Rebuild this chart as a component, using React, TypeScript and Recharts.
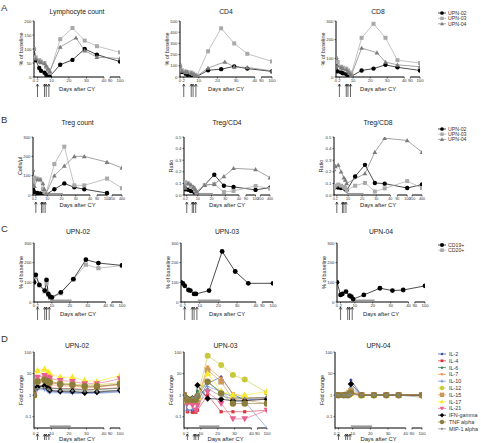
import React from 'react'
import { LineChart, Line, XAxis, YAxis, ReferenceLine, Label } from 'recharts'

const font = '"Liberation Sans", Arial, Helvetica, sans-serif'

// ---------- data ----------
const shortTicks = [0, 2, 10, 20, 30, 40, 90, 100]
const longTicks = [0, 2, 10, 20, 30, 40, 90, 100, 350, 400]
const cyDoses = [2, 6, 7, 8.5]
const shadedDays = [9, 21]

// A: % of baseline
const aDays = [0, 1, 3, 4, 6, 7, 8, 9, 15, 22, 24, 29, 36, 100]
const lymphUpn02 = [100, 60, 32, 22, 15, 8, 4, 2, 44, 61, null, 100, 80, 55]
const lymphUpn03 = [100, 70, 60, 55, 50, 35, 25, 15, 135, 175, null, 130, 110, 88]
const lymphUpn04 = [100, 65, 55, 52, 48, 40, 30, 20, 107, null, 140, 94, 71, 66]
const cd4Upn02 = [100, 45, 30, 20, 15, 10, 6, 4, 60, 70, null, 95, 75, 50]
const cd4Upn03 = [100, 60, 50, 45, 40, 30, 20, 10, 230, 435, null, 300, 207, 139]
const cd4Upn04 = [100, 55, 45, 40, 35, 25, 15, 8, 80, null, 135, 90, 85, 55]
const cd8Upn02 = [100, 30, 25, 20, 15, 10, 6, 4, 35, 45, null, 65, 52, 35]
const cd8Upn03 = [100, 80, 55, 50, 45, 35, 25, 15, 210, 285, null, 210, 90, 75]
const cd8Upn04 = [100, 60, 50, 45, 40, 30, 20, 10, 155, null, 130, 80, 65, 55]

// B: Treg
const bDays = [0, 1, 3, 5, 7, 8, 9, 15, 22, 29, 36, 100, 400]
const tregUpn02 = [30, 15, 10, 8, 5, 3, 1, 30, 60, 40, 30, 10, null]
const tregUpn03 = [70, 90, 85, 80, 30, 15, 5, 160, 250, 50, 50, 85, 35]
const tregUpn04 = [130, 45, 80, 80, 60, 30, 5, 100, 150, 200, 200, 170, 140]
const tcd4Upn02 = [0.065, 0.05, 0.045, 0.035, 0.03, 0.02, 0.01, null, 0.175, 0.08, 0.07, 0.044, 0.064]
const tcd4Upn03 = [0.093, 0.11, 0.1, 0.07, 0.06, 0.04, 0.02, 0.085, 0.093, 0.026, 0.035, 0.078, 0.055]
const tcd4Upn04 = [0.08, 0.06, 0.1, 0.09, 0.07, 0.05, 0.03, 0.085, 0.093, 0.16, 0.23, 0.22, 0.15]
const tcd8Upn02 = [0.07, 0.07, 0.065, 0.06, 0.065, 0.05, 0.04, 0.16, 0.26, 0.104, 0.098, 0.06, 0.09]
const tcd8Upn03 = [0.06, 0.08, 0.09, 0.08, 0.07, 0.06, 0.04, 0.08, 0.104, 0.03, 0.057, 0.12, 0.06]
const tcd8Upn04 = [0.22, 0.246, 0.26, 0.2, 0.15, 0.13, 0.1, null, 0.185, 0.37, 0.49, 0.47, 0.37]

// C: B cells
const c02Days = [0, 1, 3, 6, 7, 8, 9, 10, 15, 22, 29, 36, 100]
const c02Cd19 = [100, 138, 87, 58, 112, 41, 27, 24, 49, 116, 215, 198, 186]
const c02Cd20 = [100, 130, 85, 53, 95, 36, 22, 20, 45, 115, 190, 172, 185]
const c03Days = [0, 1, 2, 4, 5, 7, 8, 15, 22, 29, 36, 100]
const c03Cd19 = [100, 95, 82, 61, 58, 41, 41, 58, 257, 155, 95, 95]
const c04Days = [0, 2, 3, 5, 7, 8, 9, 15, 24, 31, 37, 100]
const c04Cd19 = [100, 36, 41, 53, 32, 27, 15, 36, 70, 58, 61, 82]

// D: cytokines, rows follow cytokineNames
const cytokineNames = ['IL-2', 'IL-4', 'IL-6', 'IL-7', 'IL-10', 'IL-12', 'IL-15', 'IL-17', 'IL-21', 'IFN-gamma', 'TNF alpha', 'MIP-1 alpha']
const d02Days = [0, 2, 6, 8, 9, 15, 22, 29, 36, 100]
const d02Values = [
  [1, 2.2, 2.0, 1.7, 1.5, 1.4, 1.3, 1.3, 1.3, 1.5],
  [1, 2.6, 3.0, 2.5, 2.2, 2.0, 2.0, 1.8, 1.9, 2.2],
  [1, 2.5, 2.8, 2.4, 2.1, 1.9, 1.9, 1.7, 1.8, 2.1],
  [1, 3.5, 4.0, 3.4, 3.0, 2.8, 2.6, 2.3, 2.4, 3.0],
  [1, 1.8, 1.8, 1.5, 1.3, 1.3, 1.2, 1.2, 1.2, 1.4],
  [1, 4.5, 5.5, 4.8, 4.2, 3.6, 3.4, 2.9, 3.0, 3.8],
  [1, 4.8, 5.7, 5.0, 4.4, 3.4, 3.1, 2.4, 2.4, 3.4],
  [1, 13.7, 16, 12, 10, 6.8, 6.8, 4.8, 4.3, 8.1],
  [1, 6.8, 8, 6.8, 6, 4.8, 4.3, 3.4, 3.4, 5.7],
  [1, 2.4, 2.65, 2.15, 1.7, 1.5, 1.5, 1.3, 1.4, 1.7],
  [1, 4.2, 5.0, 4.4, 3.8, 3.2, 3.0, 2.6, 2.6, 3.2],
  [1, 2.0, 2.2, 1.9, 1.7, 1.6, 1.6, 1.5, 1.5, 1.7],
]
const d03Days = [0, 2, 5, 7, 8, 14, 22, 29, 36, 100]
const d03Values = [
  [1, 0.2, 0.2, 0.22, 0.5, 3.5, 7, 1.1, 0.6, 0.7],
  [1, 0.17, 0.16, 0.16, 0.2, 1.0, 0.17, 0.17, 0.17, 0.2],
  [1, 0.7, 0.7, 0.7, 1.5, 4, 1.4, 0.84, 0.7, 0.8],
  [1, 0.5, 0.5, 0.5, 0.7, 20, 6, 1.2, 0.8, 0.7],
  [1, 0.2, 0.22, 0.2, 0.3, 2.5, 1.5, 0.5, 0.5, 0.03],
  [1, 0.7, 0.7, 0.7, 0.84, 67, 25, 8.5, 5.3, 1.3],
  [1, 0.5, 0.5, 0.5, 0.6, 14.5, 4.2, 0.65, 0.58, 0.41],
  [1, 0.6, 0.6, 0.6, 0.8, 10, 1.5, 1.0, 1.0, 1.5],
  [1, 0.41, 0.34, 0.2, 0.34, 1.43, 0.41, 0.08, 0.08, 0.2],
  [1, 0.7, 0.7, 0.72, 2.9, 0.7, 0.65, 0.55, 0.55, 0.65],
  [1, 0.6, 0.6, 0.6, 0.9, 4.2, 1.2, 0.41, 0.41, 0.41],
  [1, 0.8, 0.8, 0.8, 1.0, 2.0, 0.9, 0.7, 0.7, 0.8],
]
const d04Days = [0, 2, 5, 7, 8, 9, 15, 22, 29, 36, 100]
const d04Values = [
  [1, 1, 1, 1, 1.2, 5, 1, 1, 1, 1, 1],
  [1, 1, 1, 1, 1, 1.1, 1, 1, 1, 1, 1],
  [1, 1, 1, 1, 1.1, 1.3, 1, 1, 1, 1, 1],
  [1, 1, 1, 1, 1.1, 1.4, 1, 1, 1, 1, 1],
  [1, 1, 1, 1, 1.1, 2.2, 1, 1, 1, 1, 1],
  [1, 1, 1, 1, 1.1, 1.2, 1, 1, 1, 1, 1],
  [1, 1, 1, 1.1, 1.3, 1.6, 1, 1, 1, 1, 1],
  [1, 1, 1, 1, 1.1, 1.2, 1, 1, 1, 1, 1],
  [1, 1, 1, 1, 1, 1.1, 1, 1, 1, 1, 1],
  [1, 1, 1, 1, 1.1, 3.3, 1, 1, 1, 1, 1],
  [1, 1, 1, 1, 1.1, 1.3, 1, 1, 1, 1, 1],
  [1, 1, 1, 1, 1, 1.1, 1, 1, 1, 1, 0.8],
]

// ---------- styles ----------
type Shape = 'circle' | 'square' | 'triangle' | 'triangleDown' | 'diamond' | 'star' | 'cross'
type Style = { name: string; color: string; shape: Shape; r: number }

const upnStyles: Style[] = [
  { name: 'UPN-02', color: '#000000', shape: 'circle', r: 2.2 },
  { name: 'UPN-03', color: '#a9a9a9', shape: 'square', r: 2 },
  { name: 'UPN-04', color: '#7d7d7d', shape: 'triangle', r: 2.4 },
]
const bcellStyles: Style[] = [
  { name: 'CD19+', color: '#000000', shape: 'circle', r: 2.4 },
  { name: 'CD20+', color: '#a9a9a9', shape: 'square', r: 2.1 },
]
const cytoColors = ['#30479b', '#d6333b', '#2e7d4f', '#ec8b3d', '#6f94d6', '#c9c93e', '#c99a5b', '#f7e92a', '#ea5f92', '#000000', '#8b7e3c', '#8a8a8a']
const cytoShapes: Shape[] = ['diamond', 'square', 'star', 'triangleDown', 'cross', 'circle', 'square', 'triangle', 'triangleDown', 'diamond', 'circle', 'star']
const cytoSizes = [1.8, 1.6, 2.2, 2, 1.8, 3, 2.8, 3.6, 3.4, 3.2, 3.2, 2]
const cytoStyles: Style[] = cytokineNames.map((name, i) => ({ name, color: cytoColors[i], shape: cytoShapes[i], r: cytoSizes[i] }))

// ---------- broken x axis ----------
type Seg = { from: number; to: number; at: number; len: number }
const segShort: Seg[] = [
  { from: 0, to: 40, at: 0, len: 40 },
  { from: 90, to: 100, at: 43.5, len: 5.7 },
]
const segLong: Seg[] = [
  { from: 0, to: 40, at: 0, len: 40 },
  { from: 90, to: 100, at: 45, len: 7 },
  { from: 350, to: 400, at: 55.5, len: 7 },
]
const segEnd = (s: Seg[]) => s[s.length - 1].at + s[s.length - 1].len

function dayToPos(segs: Seg[], d: number) {
  for (const s of segs) {
    if (d <= s.to) return d < s.from ? s.at : s.at + ((d - s.from) / (s.to - s.from)) * s.len
  }
  return segEnd(segs)
}

// ---------- markers ----------
function starPath(cx: number, cy: number, r: number) {
  let d = ''
  for (let i = 0; i < 10; i++) {
    const a = -Math.PI / 2 + (i * Math.PI) / 5
    const rr = i % 2 === 0 ? r : r * 0.45
    d += (i ? 'L' : 'M') + (cx + rr * Math.cos(a)).toFixed(2) + ',' + (cy + rr * Math.sin(a)).toFixed(2)
  }
  return d + 'Z'
}

function Mark({ cx, cy, shape, r, color }: { cx: number; cy: number; shape: Shape; r: number; color: string }) {
  switch (shape) {
    case 'circle':
      return <circle cx={cx} cy={cy} r={r} fill={color} />
    case 'square':
      return <rect x={cx - r} y={cy - r} width={2 * r} height={2 * r} fill={color} />
    case 'triangle':
      return <path d={`M${cx},${cy - r}L${cx + r},${cy + r * 0.75}L${cx - r},${cy + r * 0.75}Z`} fill={color} />
    case 'triangleDown':
      return <path d={`M${cx},${cy + r}L${cx + r},${cy - r * 0.75}L${cx - r},${cy - r * 0.75}Z`} fill={color} />
    case 'diamond':
      return <path d={`M${cx},${cy - r}L${cx + r},${cy}L${cx},${cy + r}L${cx - r},${cy}Z`} fill={color} />
    case 'star':
      return <path d={starPath(cx, cy, r)} fill={color} />
    default:
      return (
        <path
          d={`M${cx - r},${cy}L${cx + r},${cy}M${cx},${cy - r}L${cx},${cy + r}`}
          stroke={color}
          strokeWidth={1}
        />
      )
  }
}

// ---------- panel ----------
type RowCfg = { titleGap: number; tickMargin: number; arrowTop: number; arrowLen: number; labelBase: number; tickFont: number }
const rowA: RowCfg = { titleGap: 7, tickMargin: 0.8, arrowTop: 3, arrowLen: 13, labelBase: 14, tickFont: 4.3 }
const rowB: RowCfg = { titleGap: 12, tickMargin: 1.3, arrowTop: 3, arrowLen: 11, labelBase: 12, tickFont: 3.7 }
const rowC: RowCfg = { titleGap: 9.5, tickMargin: 0, arrowTop: 1, arrowLen: 13, labelBase: 14, tickFont: 4.3 }
const rowD: RowCfg = { titleGap: 4.5, tickMargin: 2.3, arrowTop: 2, arrowLen: 6, labelBase: 13, tickFont: 4.3 }

const Y_W = 26
const M_TOP = 20
const M_RIGHT = 7
const X1_H = 4
const X2_H = 18

type PanelProps = {
  x: number
  top: number
  pw: number
  ph: number
  title: string
  row: RowCfg
  yLabel: string
  yDomain: [number, number]
  yTicks: number[]
  log?: boolean
  yFmt?: (v: number) => string
  days: number[]
  values: (number | null)[][]
  styles: Style[]
  segs: Seg[]
  ticks: number[]
  bar?: number
  lineWidth?: number
}

function Panel(p: PanelProps) {
  const end = segEnd(p.segs)
  const rows = p.days.map((d, i) => {
    const r: Record<string, number | null> = { pos: dayToPos(p.segs, d) }
    p.values.forEach((v, k) => {
      r['s' + k] = v[i]
    })
    return r
  })
  const tickPos = p.ticks.map((t) => dayToPos(p.segs, t))
  const cyPos = cyDoses.map((t) => dayToPos(p.segs, t))
  const yMin = p.yDomain[0]
  const W = Y_W + p.pw + M_RIGHT
  const H = M_TOP + p.ph + X1_H + X2_H
  const row = p.row

  const arrowTick = (t: any) => {
    const x = t.x
    const y = t.y + row.arrowTop
    return (
      <g key={`arrow-${t.index}`}>
        <line x1={x} x2={x} y1={y + 0.5} y2={y + row.arrowLen} stroke="#000" strokeWidth={0.6} />
        <path d={`M${x - 1.3},${y + 2.4}L${x},${y}L${x + 1.3},${y + 2.4}`} fill="none" stroke="#000" strokeWidth={0.6} />
      </g>
    )
  }

  return (
    <div style={{ position: 'absolute', left: p.x - Y_W, top: p.top - M_TOP }}>
      <LineChart width={W} height={H} data={rows} margin={{ top: M_TOP, right: M_RIGHT, bottom: 0, left: 0 }}>
        <XAxis
          xAxisId="b"
          type="number"
          dataKey="pos"
          domain={[0, end]}
          ticks={cyPos}
          interval={0}
          allowDataOverflow
          axisLine={false}
          tickLine={false}
          tickSize={0}
          tickMargin={0}
          height={X2_H}
          tick={arrowTick}
        >
          <Label
            value="Days after CY"
            position="insideBottom"
            offset={X2_H - (row.labelBase - X1_H)}
            style={{ fontSize: 5.8, fill: '#222' }}
          />
        </XAxis>
        <XAxis
          xAxisId="a"
          type="number"
          dataKey="pos"
          domain={[0, end]}
          ticks={tickPos}
          interval={0}
          allowDataOverflow
          axisLine={false}
          tickLine={{ stroke: '#000', strokeWidth: 0.6 }}
          tickSize={1.5}
          tickMargin={row.tickMargin}
          height={X1_H}
          tick={{ fontSize: row.tickFont, fill: '#333' }}
          tickFormatter={(v: number) => {
            const i = tickPos.indexOf(v)
            return i >= 0 ? String(p.ticks[i]) : ''
          }}
        />
        <YAxis
          type="number"
          scale={p.log ? 'log' : 'linear'}
          domain={p.yDomain}
          ticks={p.yTicks}
          interval={0}
          allowDataOverflow
          width={Y_W}
          axisLine={{ stroke: '#000', strokeWidth: 1 }}
          tickLine={{ stroke: '#000', strokeWidth: 0.6 }}
          tickSize={1.5}
          tickMargin={1}
          tick={{ fontSize: 4.3, fill: '#333' }}
          tickFormatter={(v: number) => (p.yFmt ? p.yFmt(v) : String(v))}
        >
          <Label
            value={p.yLabel}
            angle={-90}
            position="insideLeft"
            offset={13}
            style={{ textAnchor: 'middle', fontSize: 5.5, fill: '#222' }}
          />
        </YAxis>
        {p.segs.map((s, i) => (
          <ReferenceLine
            key={`seg-${i}`}
            xAxisId="a"
            segment={[
              { x: s.at, y: yMin },
              { x: s.at + s.len, y: yMin },
            ]}
            stroke="#000"
            strokeWidth={1}
            ifOverflow="visible"
          />
        ))}
        {p.bar != null && (
          <ReferenceLine
            xAxisId="a"
            segment={[
              { x: dayToPos(p.segs, shadedDays[0]), y: p.bar },
              { x: dayToPos(p.segs, shadedDays[1]), y: p.bar },
            ]}
            stroke="#9a9a9a"
            strokeWidth={1.8}
            ifOverflow="visible"
          />
        )}
        {p.styles.map((s, k) => (
          <Line
            key={s.name}
            xAxisId="a"
            type="linear"
            dataKey={'s' + k}
            stroke={s.color}
            strokeWidth={p.lineWidth ?? 0.7}
            connectNulls
            isAnimationActive={false}
            activeDot={false}
            dot={(d: any) =>
              d.value == null || d.cx == null || d.cy == null ? (
                <g key={`${s.name}-${d.index}`} />
              ) : (
                <Mark key={`${s.name}-${d.index}`} cx={d.cx} cy={d.cy} shape={s.shape} r={s.r} color={s.color} />
              )
            }
          />
        ))}
        <text x={Y_W + p.pw / 2} y={M_TOP - row.titleGap} textAnchor="middle" fontSize={6.8} fill="#222">
          {p.title}
        </text>
      </LineChart>
    </div>
  )
}

function SeriesLegend({ x, y, step, styles, textX, fontSize }: { x: number; y: number; step: number; styles: Style[]; textX: number; fontSize: number }) {
  return (
    <svg style={{ position: 'absolute', left: x, top: y, overflow: 'visible' }} width={60} height={styles.length * step}>
      {styles.map((s, i) => (
        <g key={s.name}>
          <line x1={0} x2={8} y1={i * step} y2={i * step} stroke={s.color} strokeWidth={0.7} />
          <Mark cx={4} cy={i * step} shape={s.shape} r={Math.min(s.r, 2.6) * 0.85} color={s.color} />
          <text x={textX} y={i * step + fontSize * 0.36} fontSize={fontSize} fill="#333">
            {s.name}
          </text>
        </g>
      ))}
    </svg>
  )
}

const ratioFmt = (v: number) => v.toFixed(1)

export default function App() {
  return (
    <div style={{ position: 'absolute', left: 0, top: 0, width: 481, height: 443, background: '#fff', fontFamily: font }}>
      <svg style={{ position: 'absolute', left: 0, top: 0 }} width={481} height={443}>
        <text x={1} y={11} fontSize={9.5} fill="#333">A</text>
        <text x={1} y={123} fontSize={9.5} fill="#333">B</text>
        <text x={1} y={232} fontSize={9.5} fill="#333">C</text>
        <text x={1} y={342} fontSize={9.5} fill="#333">D</text>
      </svg>

      {/* A */}
      <Panel x={34} top={21} pw={86} ph={56} row={rowA} title="Lymphocyte count" yLabel="% of baseline"
        yDomain={[0, 200]} yTicks={[0, 50, 100, 150, 200]} days={aDays}
        values={[lymphUpn02, lymphUpn03, lymphUpn04]} styles={upnStyles} segs={segShort} ticks={shortTicks} />
      <Panel x={180} top={21} pw={92} ph={56} row={rowA} title="CD4" yLabel="% of baseline"
        yDomain={[0, 500]} yTicks={[0, 100, 200, 300, 400, 500]} days={aDays}
        values={[cd4Upn02, cd4Upn03, cd4Upn04]} styles={upnStyles} segs={segShort} ticks={shortTicks} />
      <Panel x={336} top={21} pw={84} ph={56} row={rowA} title="CD8" yLabel="% of baseline"
        yDomain={[0, 300]} yTicks={[0, 100, 200, 300]} days={aDays}
        values={[cd8Upn02, cd8Upn03, cd8Upn04]} styles={upnStyles} segs={segShort} ticks={shortTicks} />
      <SeriesLegend x={437.5} y={13.3} step={5.4} styles={upnStyles} textX={10} fontSize={5.2} />

      {/* B */}
      <Panel x={33} top={137} pw={89} ph={58} row={rowB} title="Treg count" yLabel="Cells/µl"
        yDomain={[0, 300]} yTicks={[0, 100, 200, 300]} days={bDays} bar={6}
        values={[tregUpn02, tregUpn03, tregUpn04]} styles={upnStyles} segs={segLong} ticks={longTicks} />
      <Panel x={184} top={137} pw={86} ph={58} row={rowB} title="Treg/CD4" yLabel="Ratio"
        yDomain={[0, 0.5]} yTicks={[0, 0.1, 0.2, 0.3, 0.4, 0.5]} yFmt={ratioFmt} days={bDays} bar={0.01}
        values={[tcd4Upn02, tcd4Upn03, tcd4Upn04]} styles={upnStyles} segs={segLong} ticks={longTicks} />
      <Panel x={334} top={137} pw={88} ph={58} row={rowB} title="Treg/CD8" yLabel="Ratio"
        yDomain={[0, 0.5]} yTicks={[0, 0.1, 0.2, 0.3, 0.4, 0.5]} yFmt={ratioFmt} days={bDays} bar={0.01}
        values={[tcd8Upn02, tcd8Upn03, tcd8Upn04]} styles={upnStyles} segs={segLong} ticks={longTicks} />
      <SeriesLegend x={437.5} y={129} step={5.2} styles={upnStyles} textX={10} fontSize={5.2} />

      {/* C */}
      <Panel x={34} top={243} pw={88} ph={59} row={rowC} title="UPN-02" yLabel="% of baseline"
        yDomain={[0, 300]} yTicks={[0, 100, 200, 300]} days={c02Days} bar={8}
        values={[c02Cd20, c02Cd19]} styles={[bcellStyles[1], bcellStyles[0]]} segs={segShort} ticks={shortTicks} />
      <Panel x={181} top={243} pw={92} ph={59} row={rowC} title="UPN-03" yLabel="% of baseline"
        yDomain={[0, 300]} yTicks={[0, 100, 200, 300]} days={c03Days} bar={8}
        values={[c03Cd19]} styles={[bcellStyles[0]]} segs={segShort} ticks={shortTicks} />
      <Panel x={337} top={243} pw={88} ph={59} row={rowC} title="UPN-04" yLabel="% of baseline"
        yDomain={[0, 300]} yTicks={[0, 100, 200, 300]} days={c04Days} bar={8}
        values={[c04Cd19]} styles={[bcellStyles[0]]} segs={segShort} ticks={shortTicks} />
      <SeriesLegend x={437.5} y={245} step={5.2} styles={bcellStyles} textX={10} fontSize={5.2} />

      {/* D */}
      <Panel x={34} top={352} pw={86} ph={76} row={rowD} title="UPN-02" yLabel="Fold change" log
        yDomain={[0.03, 100]} yTicks={[0.1, 1, 10, 100]} days={d02Days} bar={0.036} lineWidth={0.6}
        values={d02Values} styles={cytoStyles} segs={segShort} ticks={shortTicks} />
      <Panel x={184} top={352} pw={83} ph={76} row={rowD} title="UPN-03" yLabel="Fold change" log
        yDomain={[0.03, 100]} yTicks={[0.1, 1, 10, 100]} days={d03Days} bar={0.036} lineWidth={0.6}
        values={d03Values} styles={cytoStyles} segs={segShort} ticks={shortTicks} />
      <Panel x={335} top={352} pw={87} ph={76} row={rowD} title="UPN-04" yLabel="Fold change" log
        yDomain={[0.03, 100]} yTicks={[0.1, 1, 10, 100]} days={d04Days} bar={0.036} lineWidth={0.6}
        values={d04Values} styles={cytoStyles} segs={segShort} ticks={shortTicks} />
      <SeriesLegend x={437.5} y={354} step={6.8} styles={cytoStyles} textX={11} fontSize={5.4} />
    </div>
  )
}
